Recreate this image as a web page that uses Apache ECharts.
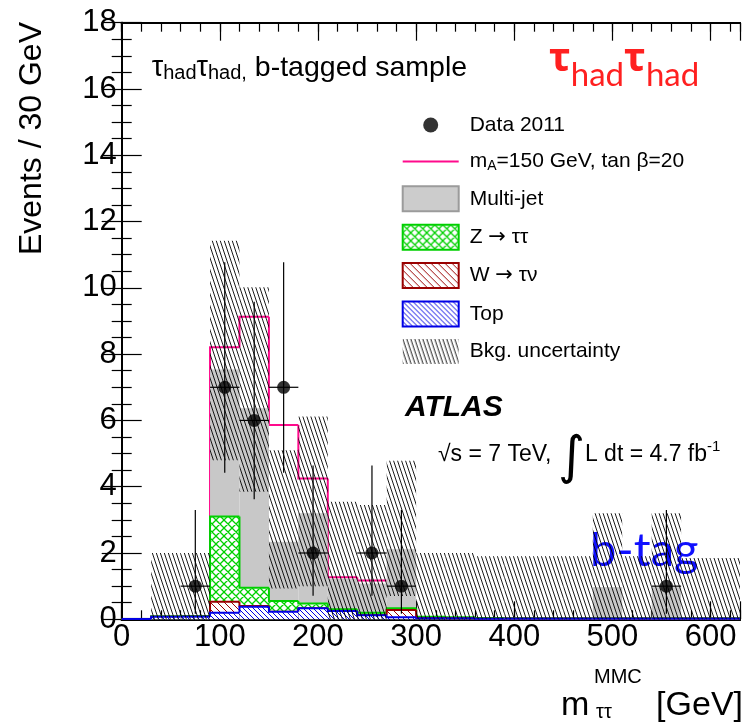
<!DOCTYPE html>
<html><head><meta charset="utf-8">
<script src="https://cdn.jsdelivr.net/npm/echarts@6/dist/echarts.min.js"></script>
<style>html,body{margin:0;padding:0;background:#fff}#c{width:743px;height:723px}</style>
</head><body><div id="c"></div>
<script>
// ---------------- data ----------------
const binLow   = [0,30,60,90,120,150,180,210,240,270,300,330,360,390,420,450,480,510,540,570,600];
const binWidth = 30;
const topBkg   = [0.01,0.08,0.08,0.20,0.38,0.23,0.33,0.25,0.12,0.06,0.03,0.03,0.02,0.02,0.02,0.02,0.02,0.02,0.02,0.02,0.02];
const wBkg     = [0,0,0,0.33,0.02,0,0,0,0,0.22,0.01,0,0,0,0,0,0,0,0,0,0];
const zBkg     = [0,0.01,0.02,2.57,0.55,0.32,0.15,0.05,0.08,0.05,0.04,0.03,0.02,0.01,0.01,0.01,0.01,0.01,0.01,0.01,0.01];
const mjBkg    = [0,0,0,4.44,5.42,1.79,2.72,0.92,0.88,1.78,0,0,0,0,0,0,0.94,0,0.94,0,0];
const signal   = [0,0,0.01,0.67,2.76,3.52,1.05,0.05,0.09,0.02,0.01,0.01,0,0,0,0,0,0,0,0,0];
const uncLow   = [0,0,0,4.80,3.85,0.93,1.00,0,0,0.70,0,0,0,0,0,0,0,0,0,0,0];
const uncHigh  = [0,2.0,2.0,11.42,10.02,5.10,6.12,3.55,3.45,4.78,2.0,2.0,1.9,1.9,1.9,1.9,3.2,1.9,3.2,1.85,1.85];
const dataX    = [75,105,135,165,195,255,285,555];
const dataY    = [1,7,6,7,2,2,1,1];
const dataLo   = [0.17,4.42,3.62,4.42,0.71,0.71,0.17,0.17];
const dataHi   = [3.30,10.77,9.58,10.77,4.64,4.64,3.30,3.30];
const xRange   = [0, 630];
const yRange   = [0, 18];

const NAME_DATA = 'Data 2011';
const NAME_SIG  = 'mA=150 GeV, tan β=20';
const NAME_MJ   = 'Multi-jet';
const NAME_Z    = 'Z → ττ';
const NAME_W    = 'W → τν';
const NAME_TOP  = 'Top';
const NAME_UNC  = 'Bkg. uncertainty';

// ---------------- styles ----------------
const FONT = '"Liberation Sans", Arial, Helvetica, sans-serif';
const C_GREEN = '#00d000', C_RED = '#990000', C_BLUE = '#0000e6', C_PINK = '#ff0a8c', C_GRAY = '#c8c8c8';

function makeTile(w, h, bg, color, lw, segs) {
  const c = document.createElement('canvas'); c.width = w; c.height = h;
  const g = c.getContext('2d');
  if (bg) { g.fillStyle = bg; g.fillRect(0, 0, w, h); }
  g.strokeStyle = color; g.lineWidth = lw; g.beginPath();
  segs.forEach(s => { g.moveTo(s[0], s[1]); g.lineTo(s[2], s[3]); });
  g.stroke();
  return { image: c, repeat: 'repeat' };
}
function backslash(period, h, dx) {
  const s = [];
  for (let k = -4; k <= 5; k++) s.push([k * period, 0, k * period + dx, h]);
  return s;
}
const patUnc = makeTile(8, 12, null, '#000', 0.9, backslash(4, 12, 4));
const patZ = makeTile(8, 8, '#fff', C_GREEN, 1.3, [
  [-8,0,0,8],[0,0,8,8],[8,0,16,8],[0,0,-8,8],[8,0,0,8],[16,0,8,8]]);
const patW = makeTile(7, 7, '#fff', C_RED, 1, backslash(7, 7, 7));
const patTop = makeTile(5, 5, '#fff', C_BLUE, 1, backslash(5, 5, 5));

// ---------------- derived rows ----------------
const zeros = binLow.map(() => 0);
const cumTop = topBkg.map(v => v);
const cumW = cumTop.map((v, i) => v + wBkg[i]);
const cumZ = cumW.map((v, i) => v + zBkg[i]);
const cumMJ = cumZ.map((v, i) => v + mjBkg[i]);
function stackRows(comp, below) {
  return binLow.map((x0, i) => {
    const b = below[i], t = b + comp[i];
    const pt = i > 0 ? below[i - 1] + comp[i - 1] : t;
    return [x0, x0 + binWidth, b, t, pt];
  });
}
function stackRenderer(fill, stroke, lw) {
  return function (params, api) {
    const x0 = api.value(0), x1 = api.value(1), b = api.value(2), t = api.value(3), pt = api.value(4);
    const a = api.coord([x0, t]), c = api.coord([x1, b]);
    const ch = [];
    if (c[1] - a[1] > 0.05) ch.push({ type: 'rect', shape: { x: a[0], y: a[1], width: c[0] - a[0], height: c[1] - a[1] }, style: { fill: fill } });
    if (stroke) ch.push({ type: 'polyline', shape: { points: [api.coord([x0, pt]), api.coord([x0, t]), api.coord([x1, t])] }, style: { stroke: stroke, lineWidth: lw, fill: null } });
    return { type: 'group', children: ch };
  };
}
const sigTot = cumMJ.map((v, i) => v + signal[i]);
const sigRows = binLow.map((x0, i) => [x0, x0 + binWidth, sigTot[i], i > 0 ? sigTot[i - 1] : sigTot[i], signal[i]]);
const uncRows = binLow.map((x0, i) => [x0, x0 + binWidth, uncLow[i], uncHigh[i]]);
const errRows = dataX.map((x, i) => [x, dataY[i], dataLo[i], dataHi[i]]);

// ---------------- axes ----------------
const axisLineStyle = { show: true, lineStyle: { color: '#000', width: 2 } };
function xAx(pos, interval, len, labels) {
  return {
    type: 'value', position: pos, min: xRange[0], max: xRange[1], interval: interval,
    axisLine: axisLineStyle,
    axisTick: { show: true, inside: true, length: len, lineStyle: { color: '#000', width: 1.2 } },
    axisLabel: labels ? { show: true, color: '#000', fontFamily: FONT, fontSize: 31, margin: 3,
      formatter: v => (v % 100 === 0 ? String(v) : '') } : { show: false },
    splitLine: { show: false }
  };
}
function yAx(pos, labels) {
  return {
    type: 'value', position: pos, min: yRange[0], max: yRange[1], interval: 2,
    axisLine: axisLineStyle,
    axisTick: { show: true, inside: true, length: 20, lineStyle: { color: '#000', width: 1.2 } },
    minorTick: { show: true, splitNumber: 4, length: 10, lineStyle: { color: '#000', width: 1.2 } },
    axisLabel: labels ? { show: true, color: '#000', fontFamily: FONT, fontSize: 31, margin: 5 } : { show: false },
    splitLine: { show: false }
  };
}

const ICON_DOT = 'path://M0,0L0,0M56,25L56,25M20.5,12.5a7.5,7.5 0 1 0 15,0a7.5,7.5 0 1 0 -15,0Z';
const ICON_LINE = 'path://M0,0L0,0M56,25L56,25M0,11.5L56,11.5L56,13.5L0,13.5Z';
const legendText = {
  [NAME_SIG]: '{r|m}{s|A}{r|=150 GeV, tan β=20}',
  [NAME_Z]: '{r|Z }{a|→}{r| ττ}',
  [NAME_W]: '{r|W }{a|→}{r| τν}'
};

const option = {
  animation: false,
  backgroundColor: '#fff',
  grid: { left: 121.7, top: 22.7, right: -1.5, bottom: 103.7, containLabel: false },
  xAxis: [xAx('bottom', 100, 18, true), xAx('bottom', 20, 9, false), xAx('top', 100, 18, false), xAx('top', 20, 9, false)],
  yAxis: [yAx('left', true), yAx('right', false)],
  legend: {
    orient: 'vertical', left: 401.7, top: 112.5, padding: 0,
    itemWidth: 56, itemHeight: 25, itemGap: 11.4, selectedMode: false,
    textStyle: { fontFamily: FONT, fontSize: 21, color: '#000', padding: [0, 0, 0, 6],
      rich: { r: { fontFamily: FONT, fontSize: 21, color: '#000' },
              a: { fontFamily: '"DejaVu Sans"', fontSize: 21, color: '#000' },
              s: { fontFamily: FONT, fontSize: 14, color: '#000', padding: [10, 0, 0, 0] } } },
    formatter: n => legendText[n] || n,
    data: [
      { name: NAME_DATA, icon: ICON_DOT, itemStyle: { color: '#000', borderWidth: 0 } },
      { name: NAME_SIG, icon: ICON_LINE, itemStyle: { color: C_PINK, borderWidth: 0 } },
      { name: NAME_MJ, icon: 'rect', itemStyle: { color: '#cccccc', borderColor: '#9b9b9b', borderWidth: 2 } },
      { name: NAME_Z, icon: 'rect', itemStyle: { color: patZ, borderColor: C_GREEN, borderWidth: 2 } },
      { name: NAME_W, icon: 'rect', itemStyle: { color: patW, borderColor: C_RED, borderWidth: 2 } },
      { name: NAME_TOP, icon: 'rect', itemStyle: { color: patTop, borderColor: C_BLUE, borderWidth: 2 } },
      { name: NAME_UNC, icon: 'rect', itemStyle: { color: patUnc, borderWidth: 0 } }
    ]
  },
  series: [
    { type: 'custom', name: NAME_SIG, silent: true, data: sigRows, itemStyle: { color: C_PINK },
      renderItem: function (params, api) {
        if (api.value(4) < 0.03) return null;
        const x0 = api.value(0), x1 = api.value(1), v = api.value(2), pv = api.value(3);
        return { type: 'polyline', shape: { points: [api.coord([x0, pv]), api.coord([x0, v]), api.coord([x1, v])] }, style: { stroke: C_PINK, lineWidth: 2, fill: null } };
      } },
    { type: 'custom', name: NAME_MJ, silent: true, renderItem: stackRenderer(C_GRAY, null, 0), data: stackRows(mjBkg, cumZ), itemStyle: { color: C_GRAY } },
    { type: 'custom', name: NAME_Z, silent: true, renderItem: stackRenderer(patZ, C_GREEN, 2), data: stackRows(zBkg, cumW), itemStyle: { color: patZ } },
    { type: 'custom', name: NAME_W, silent: true, renderItem: stackRenderer(patW, C_RED, 2), data: stackRows(wBkg, cumTop), itemStyle: { color: patW } },
    { type: 'custom', name: NAME_TOP, silent: true, renderItem: stackRenderer(patTop, C_BLUE, 2), data: stackRows(topBkg, zeros), itemStyle: { color: patTop } },
    { type: 'custom', name: NAME_UNC, silent: true, data: uncRows, itemStyle: { color: patUnc },
      renderItem: function (params, api) {
        const lo = api.value(2), hi = api.value(3);
        if (hi <= lo) return null;
        const a = api.coord([api.value(0), hi]), c = api.coord([api.value(1), lo]);
        return { type: 'rect', shape: { x: a[0], y: a[1], width: c[0] - a[0], height: c[1] - a[1] }, style: { fill: patUnc } };
      } },
    { type: 'custom', name: 'Data errors', silent: true, data: errRows, z: 5,
      renderItem: function (params, api) {
        const x = api.value(0), y = api.value(1), lo = api.value(2), hi = api.value(3);
        const st = { stroke: '#000', lineWidth: 1.2 };
        const v0 = api.coord([x, lo]), v1 = api.coord([x, hi]);
        const h0 = api.coord([x - binWidth / 2, y]), h1 = api.coord([x + binWidth / 2, y]);
        return { type: 'group', children: [
          { type: 'line', shape: { x1: v0[0], y1: v0[1], x2: v1[0], y2: v1[1] }, style: st },
          { type: 'line', shape: { x1: h0[0], y1: h0[1], x2: h1[0], y2: h1[1] }, style: st } ] };
      } },
    { type: 'scatter', name: NAME_DATA, silent: true, z: 6, symbol: 'circle', symbolSize: 13,
      itemStyle: { color: '#000' }, data: dataX.map((x, i) => [x, dataY[i]]) }
  ],
  graphic: [
    { type: 'text', x: 151.7, y: 68, style: { text: '{t|τ}{h|had}{t|τ}{h|had,}{n| b-tagged sample}', verticalAlign: 'middle',
      rich: { t: { fontFamily: FONT, fontSize: 29, fill: '#000' }, h: { fontFamily: FONT, fontSize: 20, fill: '#000', padding: [10, 0, 0, 0] },
              n: { fontFamily: FONT, fontSize: 28.5, fill: '#000' } } } },
    { type: 'text', x: 549, y: 60, style: { text: '{t|τ}{h|had}{t|τ}{h|had}', verticalAlign: 'middle',
      rich: { t: { fontFamily: '"Noto Sans"', fontSize: 40, fontWeight: 'bold', fill: '#ff2020' },
              h: { fontFamily: 'Lato, "Noto Sans"', fontSize: 33, fill: '#ff2020', padding: [30, 0, 0, 0] } } } },
    { type: 'text', x: 405, y: 408, style: { text: 'ATLAS', fontFamily: FONT, fontSize: 30, fontWeight: 'bold', fontStyle: 'italic', fill: '#000', verticalAlign: 'middle' } },
    { type: 'text', x: 438, y: 455, style: { text: '{n|√s = 7 TeV, }{i|∫}{n|L dt = 4.7 fb}{u|-1}', verticalAlign: 'middle',
      rich: { n: { fontFamily: FONT, fontSize: 23, fill: '#000' }, i: { fontFamily: '"DejaVu Sans"', fontSize: 52, fill: '#000', padding: [8, 0, 0, 0] },
              u: { fontFamily: FONT, fontSize: 15, fill: '#000', padding: [0, 0, 16, 0] } } } },
    { type: 'text', x: 590, y: 551, style: { text: 'b-tag', fontFamily: 'Lato, "Noto Sans"', fontSize: 47, fill: '#1010ff', verticalAlign: 'middle' } },
    { type: 'text', x: 32, y: 22, rotation: Math.PI / 2, style: { text: 'Events / 30 GeV', fontFamily: FONT, fontSize: 32, fill: '#000', align: 'right', verticalAlign: 'middle' } },
    { type: 'text', x: 561, y: 706, style: { text: 'm', fontFamily: FONT, fontSize: 34, fill: '#000', verticalAlign: 'middle' } },
    { type: 'text', x: 596, y: 712, style: { text: 'ττ', fontFamily: FONT, fontSize: 20, fill: '#000', verticalAlign: 'middle' } },
    { type: 'text', x: 594, y: 677, style: { text: 'MMC', fontFamily: FONT, fontSize: 20, fill: '#000', verticalAlign: 'middle' } },
    { type: 'text', x: 743, y: 706, style: { text: '[GeV]', fontFamily: FONT, fontSize: 34, fill: '#000', align: 'right', verticalAlign: 'middle' } }
  ]
};
const chart = echarts.init(document.getElementById('c'), null, { renderer: 'canvas' });
chart.setOption(option);
</script>
</body></html>
